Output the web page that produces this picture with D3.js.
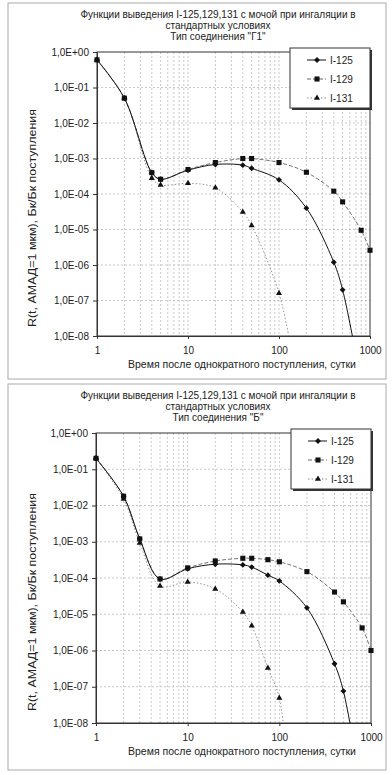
<!DOCTYPE html>
<html>
<head>
<meta charset="utf-8">
<script src="https://d3js.org/d3.v7.min.js"></script>
<style>
  body { margin: 0; background: #fff; }
  text { font-family: "Liberation Sans", Arial, sans-serif; fill: #222; }
</style>
</head>
<body>
<svg id="chart" width="392" height="775"></svg>
<script>
// ---- data ----
var seriesNames = ['I-125', 'I-129', 'I-131']
var xTicks = [1, 10, 100, 1000]
var yTicks = [1, 1e-1, 1e-2, 1e-3, 1e-4, 1e-5, 1e-6, 1e-7, 1e-8]
var xTitle = 'Время после однократного поступления, сутки'
var yTitle = 'R(t, АМАД=1 мкм), Бк/Бк поступления'
var titleLines1 = ['Функции выведения I-125,129,131 с мочой при ингаляции в', 'стандартных условиях', 'Тип соединения "Г1"']
var titleLines2 = ['Функции выведения I-125,129,131 с мочой при ингаляции в', 'стандартных условиях', 'Тип соединения "Б"']

// chart 1, type "Г1" (last points run below the axis and are clipped)
var g1Days125 = [1, 2, 4, 5, 10, 20, 40, 50, 100, 200, 400, 500, 700]
var g1I125 = [0.6, 0.05, 4.0e-4, 2.6e-4, 4.7e-4, 6.8e-4, 6.5e-4, 5.3e-4, 2.5e-4, 4.0e-5, 1.2e-6, 2.0e-7, 3e-9]
var g1Days129 = [1, 2, 4, 5, 10, 20, 40, 50, 100, 200, 400, 500, 800, 1000]
var g1I129 = [0.6, 0.05, 4.0e-4, 2.6e-4, 4.9e-4, 7.7e-4, 1.0e-3, 1.0e-3, 7.7e-4, 4.1e-4, 1.2e-4, 6.0e-5, 9.5e-6, 2.6e-6]
var g1Days131 = [1, 2, 4, 5, 10, 20, 40, 50, 100, 150]
var g1I131 = [0.6, 0.05, 2.8e-4, 1.8e-4, 2.0e-4, 1.5e-4, 3.1e-5, 1.3e-5, 1.6e-7, 1e-9]

// chart 2, type "Б"
var bDays125 = [1, 2, 3, 5, 10, 20, 40, 50, 75, 100, 200, 400, 500, 700]
var bI125 = [0.2, 0.018, 1.2e-3, 9.4e-5, 1.8e-4, 2.4e-4, 2.3e-4, 2.0e-4, 1.2e-4, 8.3e-5, 1.5e-5, 4.3e-7, 7.6e-8, 8e-10]
var bDays129 = [1, 2, 3, 5, 10, 20, 40, 50, 75, 100, 200, 400, 500, 800, 1000]
var bI129 = [0.2, 0.018, 1.2e-3, 9.4e-5, 1.9e-4, 2.95e-4, 3.5e-4, 3.5e-4, 3.2e-4, 2.8e-4, 1.5e-4, 4.1e-5, 2.2e-5, 4.2e-6, 1.0e-6]
var bDays131 = [1, 2, 3, 5, 10, 20, 40, 50, 75, 100, 125]
var bI131 = [0.2, 0.015, 9.3e-4, 6.0e-5, 7.8e-5, 5.0e-5, 1.15e-5, 4.8e-6, 3.3e-7, 4.9e-8, 3e-10]

var lineColors = ['#111', '#666', '#888']
var lineDash = [null, '4,2', '1.5,2']

var svg = d3.select('#chart')

function fmtE(v) {
  var e = Math.round(Math.log10(v))
  var s = e < 0 ? '-' : '+'
  var a = Math.abs(e)
  return '1,0E' + s + (a < 10 ? '0' : '') + a
}

function drawChart(id, box, plot, titles, series) {
  var g = svg.append('g')

  // panel frame
  g.append('rect').attr('x', box.x).attr('y', box.y).attr('width', box.w).attr('height', box.h)
      .attr('fill', 'none').attr('stroke', '#aaa').attr('stroke-width', 1)

  var x = d3.scaleLog().domain([1, 1000]).range([plot.left, plot.right])
  var y = d3.scaleLog().domain([1e-8, 1]).range([plot.bottom, plot.top])

  // titles
  g.selectAll('text.title').data(titles).enter().append('text')
      .attr('class', 'title')
      .attr('x', 218).attr('y', function (d, i) { return box.y + 15 + i * 11 })
      .attr('text-anchor', 'middle').attr('font-size', 10).text(function (d) { return d })

  // grid: minor verticals, major horizontals
  var vGrid = []
  for (var dec = 1; dec < 1000; dec *= 10) for (var k = 1; k < 10; k++) vGrid.push(dec * k)
  g.selectAll('line.vg').data(vGrid.slice(1)).enter().append('line')
      .attr('x1', function (d) { return x(d) }).attr('x2', function (d) { return x(d) })
      .attr('y1', plot.top).attr('y2', plot.bottom)
      .attr('stroke', '#bbb').attr('stroke-width', 0.8).attr('stroke-dasharray', '2,2')
  g.selectAll('line.hg').data(yTicks.slice(1, -1)).enter().append('line')
      .attr('x1', plot.left).attr('x2', plot.right)
      .attr('y1', function (d) { return y(d) }).attr('y2', function (d) { return y(d) })
      .attr('stroke', '#bbb').attr('stroke-width', 0.8).attr('stroke-dasharray', '2,2')

  // plot frame
  g.append('rect').attr('x', plot.left).attr('y', plot.top)
      .attr('width', plot.right - plot.left).attr('height', plot.bottom - plot.top)
      .attr('fill', 'none').attr('stroke', '#333').attr('stroke-width', 1)

  // axes
  var yAxis = d3.axisLeft(y).tickValues(yTicks).tickFormat(fmtE).tickSize(4).tickPadding(4)
  var ya = g.append('g').attr('transform', 'translate(' + plot.left + ',0)').call(yAxis)
  var xAxis = d3.axisBottom(x).tickValues(xTicks).tickFormat(d3.format('d')).tickSize(3).tickPadding(8)
  var xa = g.append('g').attr('transform', 'translate(0,' + plot.bottom + ')').call(xAxis)
  ;[ya, xa].forEach(function (a) {
    a.select('.domain').attr('stroke', '#333')
    a.selectAll('.tick line').attr('stroke', '#333')
    a.selectAll('.tick text').attr('font-size', 10).attr('font-family', '"Liberation Sans", Arial, sans-serif').attr('fill', '#222')
  })

  // axis titles
  g.append('text').attr('x', 242).attr('y', plot.bottom + 32)
      .attr('text-anchor', 'middle').attr('font-size', 10.5).text(xTitle)
  var cy = (plot.top + plot.bottom) / 2 + 24
  g.append('text').attr('transform', 'translate(36,' + cy + ') rotate(-90)')
      .attr('text-anchor', 'middle').attr('font-size', 10.5)
      .attr('textLength', 218).attr('lengthAdjust', 'spacingAndGlyphs').text(yTitle)

  // clip
  g.append('clipPath').attr('id', 'clip' + id).append('rect')
      .attr('x', plot.left - 4).attr('y', plot.top - 4)
      .attr('width', plot.right - plot.left + 8).attr('height', plot.bottom - plot.top + 4)
  var clipG = g.append('g').attr('clip-path', 'url(#clip' + id + ')')

  var line = d3.line().x(function (d) { return x(d[0]) }).y(function (d) { return y(d[1]) })
      .curve(d3.curveCatmullRom.alpha(0.5))

  var symbols = [d3.symbolDiamond2, d3.symbolSquare, d3.symbolTriangle]
  var symSize = [22, 26, 16]

  // draw from last to first so I-125 ends up on top
  for (var s = series.length - 1; s >= 0; s--) {
    var pts = d3.zip(series[s][0], series[s][1])
    clipG.append('path').datum(pts).attr('d', line)
        .attr('fill', 'none').attr('stroke', lineColors[s]).attr('stroke-width', s === 0 ? 1 : 0.9)
        .attr('stroke-dasharray', lineDash[s])
    clipG.selectAll('path.m' + s).data(pts.filter(function (d) { return d[1] >= 1e-8 })).enter().append('path')
        .attr('class', 'm' + s)
        .attr('transform', function (d) { return 'translate(' + x(d[0]) + ',' + y(d[1]) + ')' })
        .attr('d', d3.symbol().type(symbols[s]).size(symSize[s]))
        .attr('fill', '#111')
  }

  // legend
  var lg = g.append('g').attr('transform', 'translate(' + (plot.right - 80) + ',' + (plot.top - 4) + ')')
  lg.append('rect').attr('x', 2).attr('y', 2).attr('width', 80).attr('height', 60).attr('fill', '#333')
  lg.append('rect').attr('x', 0).attr('y', 0).attr('width', 80).attr('height', 60)
      .attr('fill', '#fff').attr('stroke', '#333').attr('stroke-width', 1)
  var items = lg.selectAll('g.item').data(seriesNames).enter().append('g')
      .attr('transform', function (d, i) { return 'translate(0,' + (12 + i * 19) + ')' })
  items.append('line').attr('x1', 17).attr('x2', 36).attr('y1', 0).attr('y2', 0)
      .attr('stroke', function (d, i) { return lineColors[i] })
      .attr('stroke-dasharray', function (d, i) { return lineDash[i] })
  items.append('path').attr('transform', 'translate(27,0)')
      .attr('d', function (d, i) { return d3.symbol().type(symbols[i]).size(symSize[i])() })
      .attr('fill', '#111')
  items.append('text').attr('x', 40).attr('y', 3.5).attr('font-size', 10).text(function (d) { return d })
}

drawChart(1, { x: 8, y: 3, w: 378, h: 376 }, { left: 97, right: 370, top: 52, bottom: 336 }, titleLines1,
    [[g1Days125, g1I125], [g1Days129, g1I129], [g1Days131, g1I131]])
drawChart(2, { x: 8, y: 384, w: 378, h: 386 }, { left: 96, right: 371, top: 433, bottom: 723 }, titleLines2,
    [[bDays125, bI125], [bDays129, bI129], [bDays131, bI131]])
</script>
</body>
</html>
